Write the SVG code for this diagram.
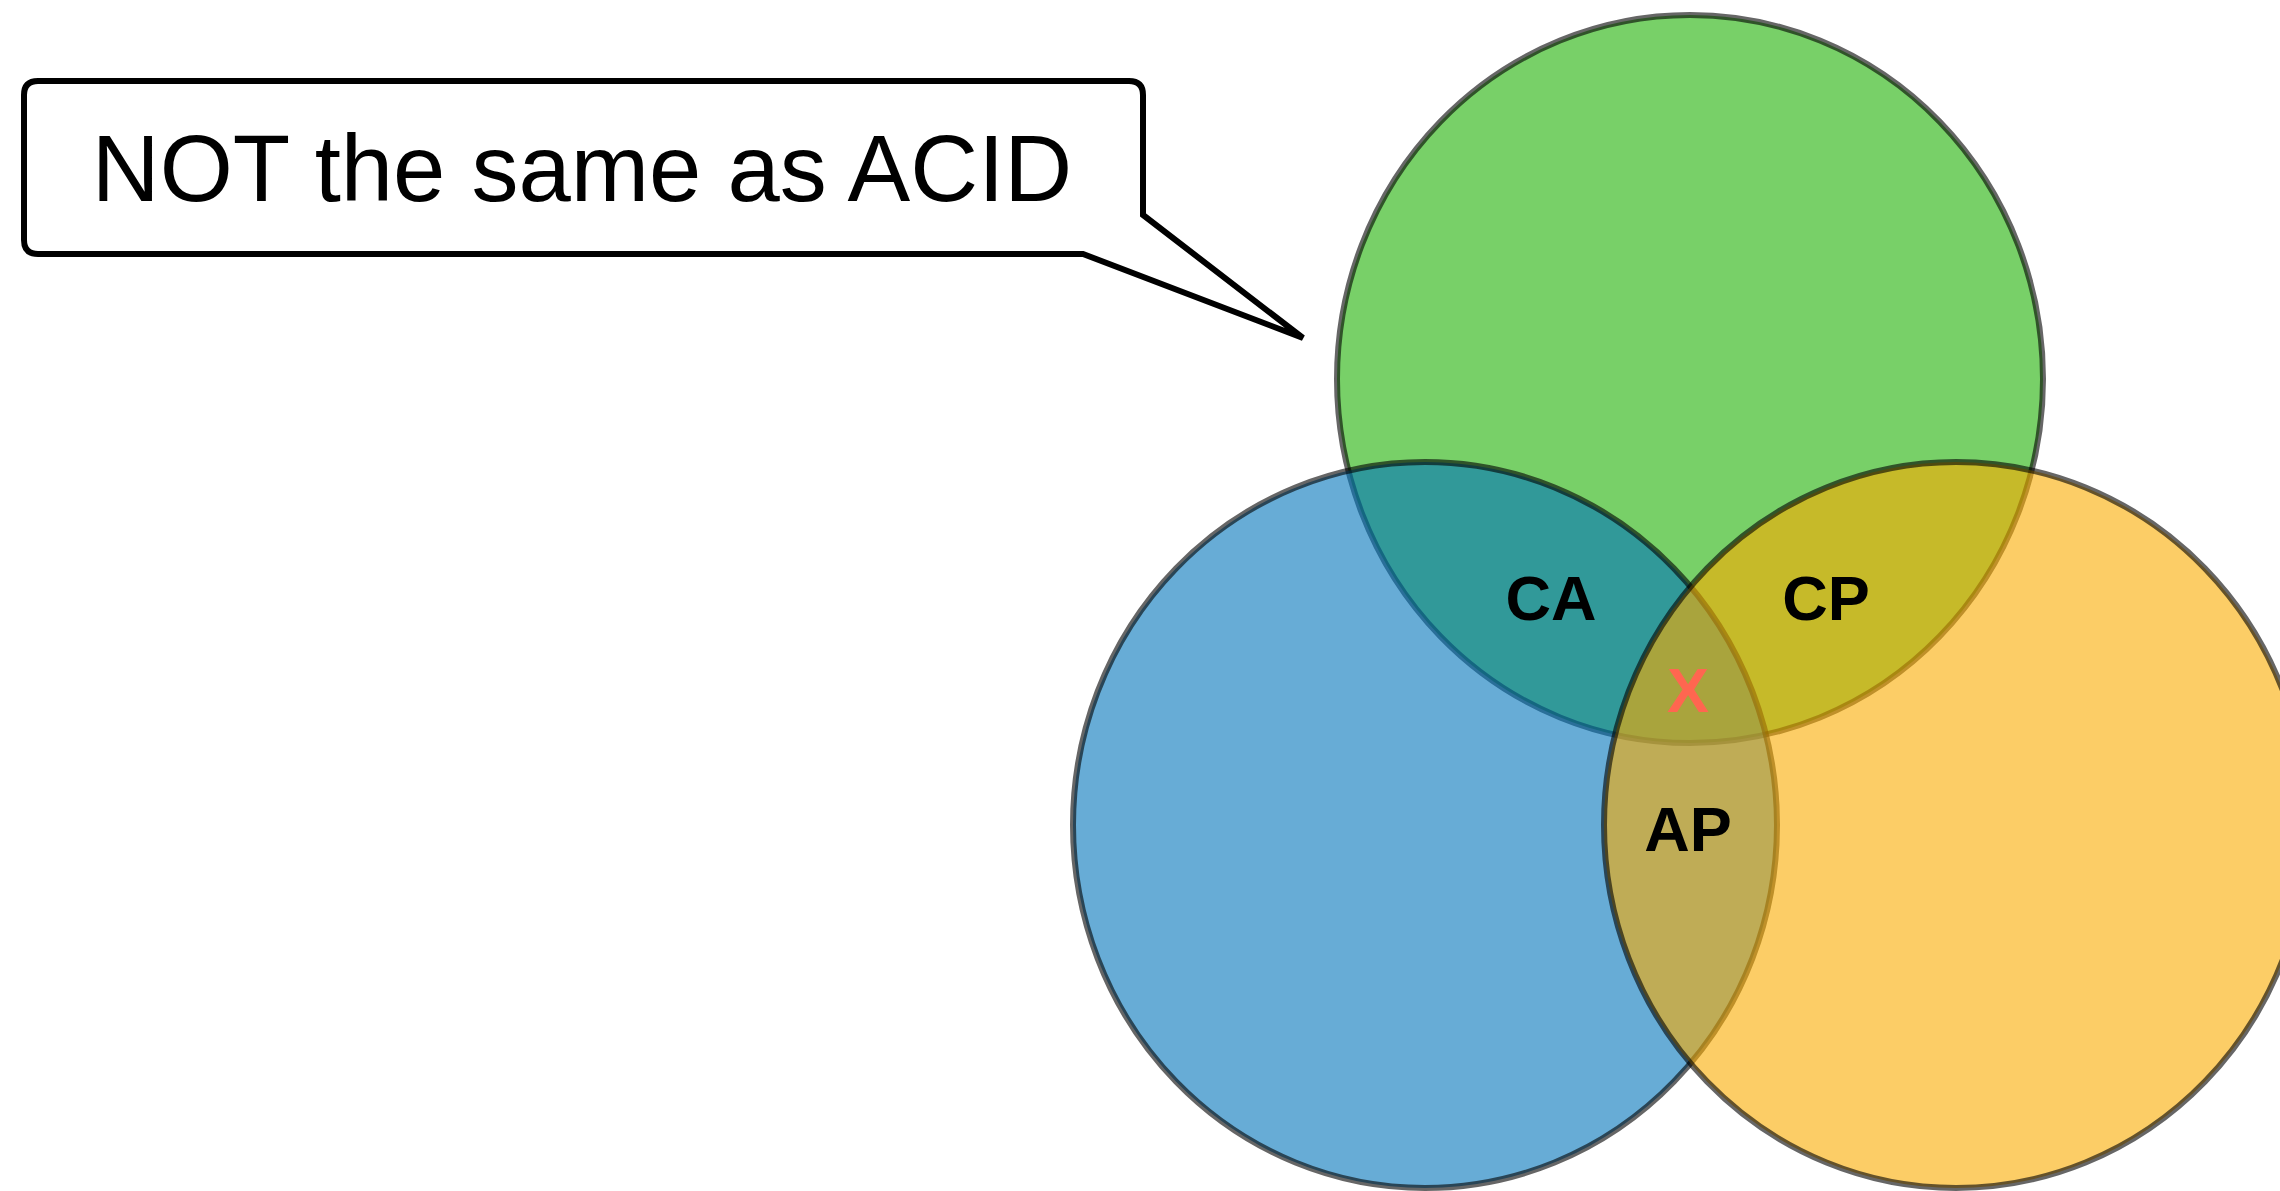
<svg xmlns="http://www.w3.org/2000/svg" width="2280" height="1191" viewBox="0 0 2280 1191">
  <style>
    .set { stroke: #000; stroke-opacity: 0.6; stroke-width: 6; fill-opacity: 0.6; }
    .lbl { font-family: "Liberation Sans", Arial, sans-serif; font-weight: bold; font-size: 63px; text-anchor: middle; fill: #000; }
    .callout { fill: #fff; stroke: #000; stroke-width: 6; stroke-linejoin: miter; stroke-miterlimit: 3; }
    .note { font-family: "Liberation Sans", Arial, sans-serif; font-size: 94px; text-anchor: middle; fill: #000; }
  </style>

  <rect width="2280" height="1191" fill="#fff"/>

  <!-- three overlapping sets -->
  <g id="set-c">
    <ellipse class="set" cx="1690" cy="379" rx="353" ry="364" fill="#1eb103"/>
  </g>
  <g id="set-a">
    <ellipse class="set" cx="1425" cy="825" rx="352" ry="363" fill="#0275bb"/>
  </g>
  <g id="set-p">
    <ellipse class="set" cx="1956" cy="825" rx="352" ry="363" fill="#faac00"/>
  </g>

  <!-- intersection labels -->
  <g id="labels">
    <text class="lbl" x="1551" y="620">CA</text>
    <text class="lbl" x="1826" y="620">CP</text>
    <text class="lbl" x="1688" y="851">AP</text>
    <text class="lbl" x="1688" y="712" style="fill:#ff6650">X</text>
  </g>

  <!-- speech-bubble callout -->
  <g id="callout">
    <path class="callout" d="M38,81 H1129 Q1143,81 1143,95 V215 L1303,338 L1083,254 H38 Q24,254 24,240 V95 Q24,81 38,81 Z"/>
    <text class="note" x="582" y="201">NOT the same as ACID</text>
  </g>
  <g id="connectors"/>
</svg>
